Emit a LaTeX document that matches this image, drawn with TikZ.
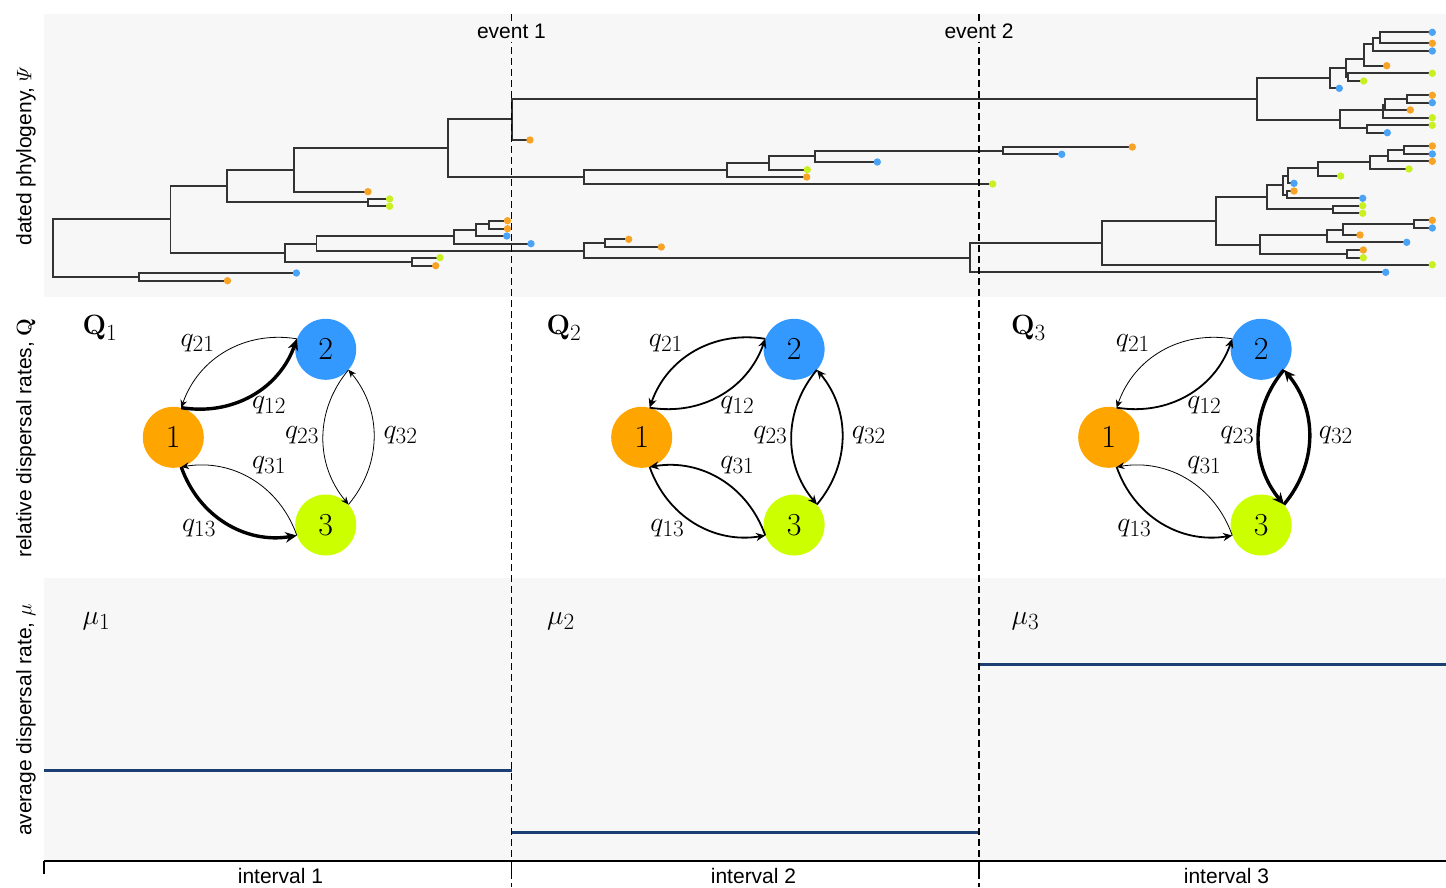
\documentclass[tikz,border=0pt]{standalone}
\usepackage{fix-cm}
\usepackage{amsmath}
\usepackage{graphicx}
\usepackage[no-math]{fontspec}
\setmainfont{Liberation Sans}
\usetikzlibrary{arrows.meta}

\definecolor{panelgray}{HTML}{F7F7F7}
\definecolor{branchgray}{HTML}{333333}
\definecolor{areaorange}{HTML}{FFA500}
\definecolor{areablue}{HTML}{3399FF}
\definecolor{arealime}{HTML}{CCFF00}
\definecolor{tipo}{HTML}{F7A325}
\definecolor{tipb}{HTML}{4AA3F5}
\definecolor{tipl}{HTML}{C9F020}
\definecolor{ratenavy}{HTML}{1B3E73}

\tikzset{
  branch/.style = {draw=branchgray, line width=1.8pt},
  eventline/.style = {line width=1.6pt, dash pattern=on 7pt off 4pt},
  eventlabel/.style = {fill=panelgray, inner sep=3pt, anchor=base, font=\fontsize{21}{24}\selectfont},
  sidelabel/.style = {rotate=90, font=\fontsize{21}{24}\selectfont},
  area/.style = {circle, minimum size=61pt, inner sep=0pt, font=\fontsize{32}{32}\selectfont},
  rate/.style = {-{Stealth[length=6.5pt 1.5, width=5.5pt 1.5]}},
  qlabel/.style = {font=\fontsize{24.88}{26}\selectfont},
  ratestep/.style = {draw=ratenavy, line width=2.6pt},
  axisline/.style = {line width=1.6pt}
}

\newcommand{\clade}[5]{\draw[branch] (#3,#2) -- (#1,#2) -- (#1,#4) -- (#5,#4);}
\newcommand{\tipdot}[3]{\fill[#3] (#1,#2) circle (3.7pt);}
\newcommand{\bigmath}[1]{\scalebox{1.12}{$#1$}}

\begin{document}
\begin{tikzpicture}[x=1pt, y=-1pt]
  \useasboundingbox (0,0) rectangle (1446,887);

  % Panels
  \fill[panelgray] (44,14) rectangle (1446,297);
  \fill[panelgray] (44,578) rectangle (1446,861);

  % Side labels
  \node[sidelabel] (psilab) at (26,156) {dated phylogeny, $\varPsi$};
  \node[sidelabel] (qlab) at (26,438) {relative dispersal rates, $\mathbf{Q}$};
  \node[sidelabel] (mulab) at (26,720) {average dispersal rate, $\mu$};

  %% Dated phylogeny

  % Stem and early clades
  \clade{52.9}{219.3}{170.4}{276.7}{139.3}
  \clade{139.3}{273}{296.4}{280.7}{227.5}
  \clade{170.4}{186}{227.1}{253.3}{285}
  \clade{227.1}{170}{293.6}{202.3}{367.9}
  \clade{293.6}{148}{447.9}{191.7}{367.9}
  \clade{447.9}{119}{511.8}{177}{584}
  \clade{511.8}{99}{1256.7}{140}{530}
  \clade{367.9}{199}{389.6}{206.3}{389.6}
  \clade{285}{243.7}{316.4}{262}{411.8}
  \clade{316.4}{236.3}{454.3}{250.7}{584}
  \clade{454.3}{229.7}{476}{243.7}{531}
  \clade{476}{224.3}{488.6}{236}{506.8}
  \clade{488.6}{220.7}{507.5}{228.7}{507.5}
  \clade{411.8}{257.7}{440}{265.7}{435.7}
  \clade{584}{243}{604.7}{257.7}{969.7}
  \clade{604.7}{239.3}{628.7}{247}{661.3}

  % Lower crown clade
  \clade{969.7}{243}{1101.7}{272.3}{1385.7}
  \clade{1101.7}{220.9}{1216}{264.7}{1432.3}
  \clade{1216}{196.7}{1266.7}{245}{1260}
  \clade{1266.7}{185}{1282.7}{209}{1333.3}
  \clade{1282.7}{176}{1288.3}{195}{1287.3}
  \clade{1288.3}{168.3}{1318.3}{183.3}{1294}
  \clade{1318.3}{162.3}{1370}{176}{1340.7}
  \clade{1370}{155.7}{1388.3}{169}{1409}
  \clade{1388.3}{150}{1404.3}{161.3}{1432.3}
  \clade{1404.3}{146}{1432.3}{154}{1432.3}
  \clade{1287.3}{191}{1294}{198.3}{1362.7}
  \clade{1333.3}{205.7}{1362.7}{213.3}{1362.7}
  \clade{1260}{235}{1327.3}{253.7}{1347.3}
  \clade{1327.3}{230}{1342.7}{242.3}{1406.7}
  \clade{1342.7}{223.7}{1414.3}{235}{1360}
  \clade{1414.3}{220.3}{1432.3}{228}{1432.3}
  \clade{1347.3}{250}{1363.3}{257.7}{1363.3}

  % Middle clade
  \clade{584}{170}{727.3}{184}{992.7}
  \clade{727.3}{163}{768.7}{177}{806.7}
  \clade{768.7}{155.7}{814.7}{169.7}{807.3}
  \clade{814.7}{150.7}{1003.3}{162}{877.3}
  \clade{1003.3}{147}{1132.3}{154.3}{1061.7}

  % Upper crown clade
  \clade{1256.7}{77.7}{1330}{120}{1340.3}
  \clade{1330}{67.7}{1346}{88.3}{1339.3}
  \clade{1346}{58.7}{1364.3}{77.2}{1347.7}
  \clade{1364.3}{44.3}{1372.7}{65.7}{1386.7}
  \clade{1347.7}{73.3}{1432.3}{81}{1363.7}
  \clade{1372.7}{38.3}{1380}{51}{1432.3}
  \clade{1380}{32.3}{1432.3}{43.3}{1432.3}
  \clade{1340.3}{110.3}{1383.3}{128.3}{1366.7}
  \clade{1383.3}{105}{1385}{117.7}{1432.3}
  \clade{1385}{99.3}{1406.7}{110}{1410.3}
  \clade{1406.7}{95.3}{1432.3}{102.7}{1432.3}
  \clade{1366.7}{125.3}{1432.3}{132.7}{1387.3}

  % Tips
  \tipdot{296.4}{273}{tipb} \tipdot{227.5}{280.7}{tipo}
  \tipdot{530}{140}{tipo}
  \tipdot{367.9}{191.7}{tipo}
  \tipdot{389.6}{199}{tipl} \tipdot{389.6}{206.3}{tipl}
  \tipdot{531}{243.7}{tipb}
  \tipdot{506.8}{236}{tipb}
  \tipdot{507.5}{220.7}{tipo} \tipdot{507.5}{228.7}{tipo}
  \tipdot{440}{257.7}{tipl} \tipdot{435.7}{265.7}{tipo}
  \tipdot{628.7}{239.3}{tipo} \tipdot{661.3}{247}{tipo}
  \tipdot{1385.7}{272.3}{tipb}
  \tipdot{1432.3}{264.7}{tipl}
  \tipdot{1294}{183.3}{tipb}
  \tipdot{1340.7}{176}{tipl}
  \tipdot{1409}{169}{tipl}
  \tipdot{1432.3}{161.3}{tipo}
  \tipdot{1432.3}{146}{tipo} \tipdot{1432.3}{154}{tipb}
  \tipdot{1294}{191}{tipo} \tipdot{1362.7}{198.3}{tipb}
  \tipdot{1362.7}{205.7}{tipl} \tipdot{1362.7}{213.3}{tipl}
  \tipdot{1406.7}{242.3}{tipb}
  \tipdot{1360}{235}{tipo}
  \tipdot{1432.3}{220.3}{tipo} \tipdot{1432.3}{228}{tipb}
  \tipdot{1363.3}{250}{tipo} \tipdot{1363.3}{257.7}{tipl}
  \tipdot{992.7}{184}{tipl}
  \tipdot{806.7}{177}{tipo}
  \tipdot{807.3}{169.7}{tipl}
  \tipdot{877.3}{162}{tipb}
  \tipdot{1132.3}{147}{tipo} \tipdot{1061.7}{154.3}{tipb}
  \tipdot{1339.3}{88.3}{tipb}
  \tipdot{1386.7}{65.7}{tipo}
  \tipdot{1432.3}{73.3}{tipl} \tipdot{1363.7}{81}{tipl}
  \tipdot{1432.3}{51}{tipb}
  \tipdot{1432.3}{32.3}{tipb} \tipdot{1432.3}{43.3}{tipo}
  \tipdot{1432.3}{117.7}{tipl}
  \tipdot{1410.3}{110}{tipo}
  \tipdot{1432.3}{95.3}{tipo} \tipdot{1432.3}{102.7}{tipb}
  \tipdot{1432.3}{125.3}{tipl} \tipdot{1387.3}{132.7}{tipb}

  %% Relative dispersal rates
  \foreach \k/\sx/\lwa/\lwb/\lwc/\lwd/\lwe/\lwf/\qx/\mx in {
      1/0/0.8/3.4/0.8/0.8/0.8/3.4/100/96.4,
      2/468.4/1.8/1.8/1.8/1.8/1.8/1.8/564/561,
      3/935.4/0.8/1.8/3.4/3.4/0.8/1.8/1028.5/1025.4}
  {
    \node[qlabel] (Q\k) at (\qx,328) {\bigmath{\mathbf{Q}_{\k}}};
    \node[qlabel] (mu\k) at (\mx,621) {\bigmath{\mu_{\k}}};

    % Areas
    \node[area, fill=areaorange] (n1-\k) at (173.3+\sx,437.3) {$1$};
    \node[area, fill=areablue] (n2-\k) at (325.7+\sx,349.3) {$2$};
    \node[area, fill=arealime] (n3-\k) at (325.7+\sx,525) {$3$};

    % Rates
    \draw[rate, line width=\lwa pt] (n2-\k.160) to[bend right=40] (n1-\k.75);
    \draw[rate, line width=\lwb pt] (n1-\k.75) to[bend right=40] (n2-\k.160);
    \draw[rate, line width=\lwc pt] (n2-\k.-42) to[bend right=40] (n3-\k.42);
    \draw[rate, line width=\lwd pt] (n3-\k.42) to[bend right=40] (n2-\k.-42);
    \draw[rate, line width=\lwe pt] (n3-\k.200) to[bend right=40] (n1-\k.-75);
    \draw[rate, line width=\lwf pt] (n1-\k.-75) to[bend right=40] (n3-\k.200);

    \node[qlabel] (q21-\k) at (197.5+\sx,343.3) {\bigmath{q_{21}}};
    \node[qlabel] (q12-\k) at (269+\sx,405) {\bigmath{q_{12}}};
    \node[qlabel] (q23-\k) at (302+\sx,435) {\bigmath{q_{23}}};
    \node[qlabel] (q32-\k) at (400.5+\sx,435) {\bigmath{q_{32}}};
    \node[qlabel] (q31-\k) at (269+\sx,465) {\bigmath{q_{31}}};
    \node[qlabel] (q13-\k) at (199+\sx,528.3) {\bigmath{q_{13}}};
  }

  %% Average dispersal rate
  \draw[ratestep] (44,770.7) -- (511.5,770.7);
  \draw[ratestep] (511.5,832.3) -- (979,832.3);
  \draw[ratestep] (979,664.3) -- (1446,664.3);

  % Time axis
  \draw[axisline] (44,861) -- (1446,861);
  \foreach \tx in {44,511.5,979}
    \draw[axisline] (\tx,861) -- (\tx,874);
  \node[eventlabel, fill=none] (int1) at (280.5,883) {interval 1};
  \node[eventlabel, fill=none] (int2) at (753.5,883) {interval 2};
  \node[eventlabel, fill=none] (int3) at (1226.5,883) {interval 3};

  % Events
  \coordinate (e1top) at (511.5,14);
  \coordinate (e1bot) at (511.5,887);
  \coordinate (e2top) at (979,14);
  \coordinate (e2bot) at (979,887);
  \draw[eventline] (e1top) -- (e1bot);
  \draw[eventline] (e2top) -- (e2bot);
  \node[eventlabel] (ev1) at (511.5,38.3) {event 1};
  \node[eventlabel] (ev2) at (979,38.3) {event 2};

\end{tikzpicture}
\end{document}
